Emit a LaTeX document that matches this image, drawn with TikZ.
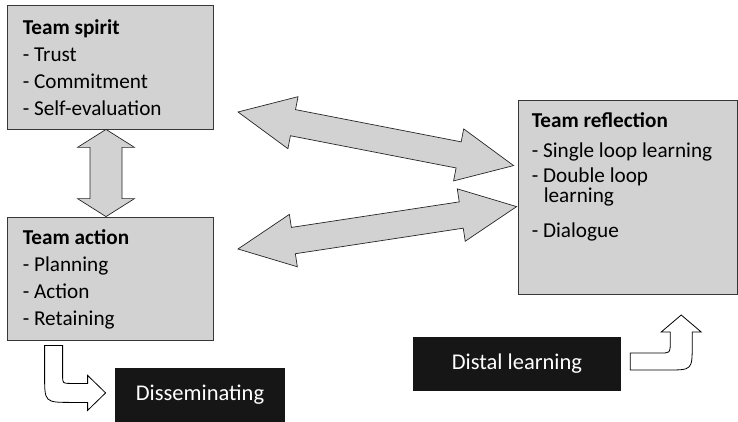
\documentclass[tikz,border=0pt]{standalone}
\usepackage{fontspec}
\setmainfont{Carlito}
\usetikzlibrary{calc,positioning}

\definecolor{boxgrey}{RGB}{209,210,209}
\definecolor{boxblack}{RGB}{22,22,22}
\definecolor{edgegrey}{RGB}{55,55,55}

\tikzset{
  greybox/.style={draw=edgegrey, fill=boxgrey, line width=0.8pt, inner sep=0pt},
  blackbox/.style={fill=boxblack, text=white, inner sep=0pt, font=\fontsize{22.5}{26}\selectfont},
  listtxt/.style={align=left, inner sep=0pt, anchor=north west, font=\fontsize{21.2}{27}\selectfont},
  fatarrow/.style={draw=black!85, fill=boxgrey, line width=0.7pt},
  bentarrow/.style={draw=black, fill=white, line width=0.8pt},
}

% block arrow with a head at both ends, from #1 to #2
% #3 = head length, #4 = half head width, #5 = half shaft width
\newcommand{\twoway}[5]{%
  \filldraw[fatarrow] (#1)
    -- ($(#1)!#3!(#2)!#4!90:(#2)$)
    -- ($(#1)!#3!(#2)!#5!90:(#2)$)
    -- ($(#2)!#3!(#1)!#5!-90:(#1)$)
    -- ($(#2)!#3!(#1)!#4!-90:(#1)$)
    -- (#2)
    -- ($(#2)!#3!(#1)!#4!90:(#1)$)
    -- ($(#2)!#3!(#1)!#5!90:(#1)$)
    -- ($(#1)!#3!(#2)!#5!-90:(#2)$)
    -- ($(#1)!#3!(#2)!#4!-90:(#2)$)
    -- cycle;}

\begin{document}
\begin{tikzpicture}[x=1pt, y=-1pt]
\useasboundingbox (0,0) rectangle (738,422);

% boxes
\node[greybox, minimum width=206pt, minimum height=124pt] (spirit) at (110,67) {};
\node[greybox, minimum width=206pt, minimum height=123pt] (action) at (110,278.5) {};
\node[greybox, minimum width=219pt, minimum height=194pt] (reflect) at (627.5,197) {};
\node[blackbox, minimum width=170pt, minimum height=54pt] (dissem) at (200,395) {Disseminating};
\node[blackbox, minimum width=208pt, minimum height=54pt] (distal) at (517,364) {Distal learning};

% box contents
\node[listtxt] (spiritList) at ($(spirit.north west)+(16,15)$)
  {\textbf{Team spirit}\\- Trust\\- Commitment\\- Self-evaluation};
\node[listtxt] (actionList) at ($(action.north west)+(16,13)$)
  {\textbf{Team action}\\- Planning\\- Action\\- Retaining};
\node[listtxt] (reflectList) at ($(reflect.north west)+(14,13)$)
  {\textbf{Team reflection}\\[3pt]- Single loop learning\\[-2pt]- Double loop\\[-7pt]%
   \hspace*{12pt}learning\\[8pt]- Dialogue};

% block arrows
\coordinate (spOut) at ([xshift=-4pt]spirit.south);
\coordinate (acIn) at ([xshift=-4pt]action.north);
\coordinate (upTip) at (238,112);
\coordinate (lowTip) at (238,249);
\coordinate (reflIn) at ($(reflect.north west)+(-4,66)$);
\coordinate (reflOut) at ($(reflect.north west)+(-1,107)$);

\twoway{spOut}{acIn}{18pt}{28.5pt}{16pt}
\twoway{upTip}{reflIn}{56pt}{26.5pt}{13.3pt}
\twoway{lowTip}{reflOut}{56pt}{26.5pt}{13.3pt}

% bent arrows
\begin{scope}[shift={($(action.south west)+(38,5)$)}]
  \filldraw[bentarrow] (0,0) -- (18,0) -- (18,30) .. controls (18,38) .. (26,38)
    -- (43,38) -- (43,30) -- (61,47.5) -- (43,65) -- (43,57) -- (27,57)
    .. controls (0,57) .. (0,30) -- cycle;
\end{scope}
\begin{scope}[shift={($(distal.east)+(9,-11)$)}]
  \filldraw[bentarrow] (0,0) -- (30,0) .. controls (40,0) .. (40,-10)
    -- (40,-21) -- (31,-21) -- (51,-38) -- (71,-21) -- (62,-21) -- (62,-8)
    .. controls (62,17) .. (37,17) -- (0,17) -- cycle;
\end{scope}
\end{tikzpicture}
\end{document}
